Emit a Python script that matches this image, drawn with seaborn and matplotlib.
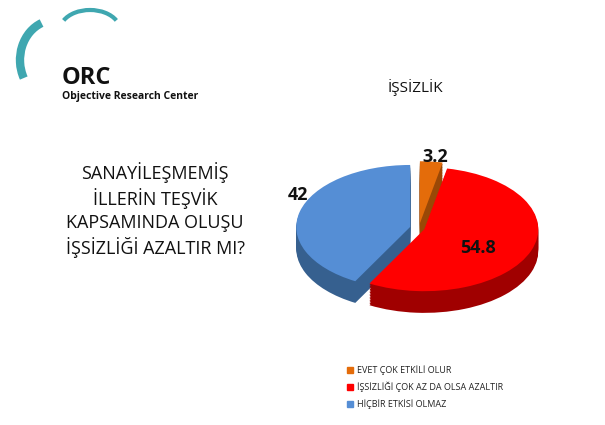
import matplotlib
matplotlib.use("Agg")
import matplotlib.pyplot as plt
import seaborn as sns
from matplotlib.patches import Arc

sns.set_theme(style="white")
plt.rcParams['font.family'] = ['Open Sans', 'DejaVu Sans']

categories = ["EVET ÇOK ETKİLİ OLUR", "İŞSİZLİĞİ ÇOK AZ DA OLSA AZALTIR", "HİÇBİR ETKİSİ OLMAZ"]
values = [3.2, 54.8, 42]
value_labels = ["3.2", "54.8", "42"]
colors = ["#E46C0A", "#FF0000", "#558ED5"]
dark = ["#9A4806", "#A00000", "#36608F"]

fig = plt.figure(figsize=(6.05, 4.25), dpi=100)
W, H = 605, 425

ax = fig.add_axes([288/W, (H-318)/H, 262/W, 158/H])
ax.axis("off")
explode = [0.08, 0.05, 0.08]
for k in range(14, 0, -1):
    ax.pie(values, colors=dark, startangle=90, counterclock=False,
           explode=explode, center=(0, -0.025*k), radius=1,
           wedgeprops=dict(linewidth=0))
ax.pie(values, colors=colors, startangle=90, counterclock=False,
       explode=explode, center=(0, 0), radius=1,
       wedgeprops=dict(linewidth=0))
ax.set_aspect('auto')
ax.set_xlim(-1.15, 1.15); ax.set_ylim(-1.45, 1.1)

pos = [(435, 157), (478, 248), (298, 195)]
for (x, y), t in zip(pos, value_labels):
    fig.text(x/W, 1-y/H, t, ha="center", va="center", fontsize=13, fontweight="bold", color="#111111")

fig.text(415/W, 1-88/H, "İŞSİZLİK", ha="center", va="center", fontsize=11, color="#111111")
fig.text(155/W, 1-210/H, "SANAYİLEŞMEMİŞ\nİLLERİN TEŞVİK\nKAPSAMINDA OLUŞU\nİŞSİZLİĞİ AZALTIR MI?",
         ha="center", va="center", fontsize=13, linespacing=1.3, color="#111111")

for i, (c, lab) in enumerate(zip(colors, categories)):
    y = 1 - (370 + i*17)/H
    fig.patches.append(plt.Rectangle((347/W, y-3/H), 6/W, 6/H, color=c, transform=fig.transFigure))
    fig.text(357/W, y, lab, ha="left", va="center", fontsize=6.5, color="#222222")

lax = fig.add_axes([0, 1-110/H, 210/W, 110/H])
lax.set_xlim(0, 210); lax.set_ylim(110, 0); lax.axis("off")
lax.add_patch(Arc((55, 60), 70, 80, theta1=150, theta2=250, color="#3FA7B0", lw=6))
lax.add_patch(Arc((90, 30), 60, 40, theta1=200, theta2=340, color="#3FA7B0", lw=3))
lax.text(62, 78, "ORC", fontsize=17, fontweight="bold", color="#111111", va="center")
lax.text(62, 96, "Objective Research Center", fontsize=7.5, fontweight="bold", color="#111111", va="center")

fig.savefig("out.png", dpi=100)
